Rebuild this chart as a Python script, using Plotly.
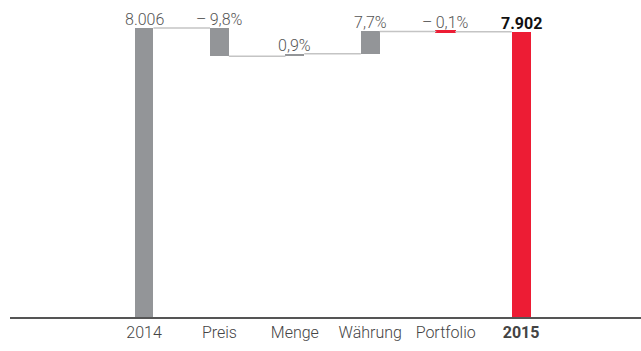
import plotly.graph_objects as go

# Umsatzbrücke 2014 -> 2015 (Mio. EUR), Effekte in % vom Vorjahresumsatz
categories = ["2014", "Preis", "Menge", "Währung", "Portfolio", "2015"]
start_value = 8006
end_value = 7902
effects_pct = [-9.8, 0.9, 7.7, -0.1]
bar_colors = ["#939598", "#939598", "#939598", "#939598", "#ed1c34", "#ed1c34"]

GRAY_TEXT = "#555555"
FONT = "Roboto"

# cumulative levels of the bridge
levels = [start_value]
for p in effects_pct:
    levels.append(levels[-1] + start_value * p / 100.0)

bases, heights = [0], [start_value]
for i, p in enumerate(effects_pct):
    lo, hi = sorted([levels[i], levels[i + 1]])
    bases.append(lo)
    heights.append(hi - lo)
bases.append(0)
heights.append(end_value)

tops = [b + h for b, h in zip(bases, heights)]
xs = list(range(len(categories)))
bar_w = 0.25

# very thin steps get an outline in their own colour so they stay visible
outline_w = [2 if h < start_value * 0.005 else 0 for h in heights]


def fmt_num(v):
    return f"{v:,}".replace(",", ".")


def fmt_pct(p):
    s = f"{abs(p):.1f}".replace(".", ",") + "%"
    return ("–\u2009" + s) if p < 0 else s


labels = [fmt_num(start_value)] + [fmt_pct(p) for p in effects_pct] + [f"<b>{fmt_num(end_value)}</b>"]
label_colors = [GRAY_TEXT] * 5 + ["#111111"]
label_weights = [300] * 5 + [700]

fig = go.Figure()

# connector lines between consecutive bars
cx, cy = [], []
for i in range(len(categories) - 1):
    lvl = levels[i]
    cx += [xs[i] + bar_w / 2, xs[i + 1] - bar_w / 2, None]
    cy += [lvl, lvl, None]
fig.add_trace(go.Scatter(x=cx, y=cy, mode="lines",
                         line=dict(color="#c4c4c4", width=1.5),
                         hoverinfo="skip", showlegend=False))

fig.add_trace(go.Bar(x=xs, y=heights, base=bases, width=bar_w,
                     marker=dict(color=bar_colors,
                                 line=dict(width=outline_w, color=bar_colors)),
                     showlegend=False))

for x, t, lab, col, wt in zip(xs, tops, labels, label_colors, label_weights):
    fig.add_annotation(x=x, y=t, text=lab, showarrow=False,
                       yanchor="bottom", yshift=-3,
                       font=dict(family=FONT, size=16, color=col, weight=wt))

ticktext = categories[:-1] + [f"<b>{categories[-1]}</b>"]

fig.update_layout(
    width=641, height=351,
    margin=dict(l=10, r=0, t=0, b=34),
    paper_bgcolor="white", plot_bgcolor="white",
    font=dict(family=FONT, size=16, color="#444444", weight=300),
    bargap=0,
)
fig.update_xaxes(range=[-1.777, 6.59], tickmode="array", tickvals=xs,
                 ticktext=ticktext, showgrid=False, zeroline=False,
                 showline=True, linecolor="#555555", linewidth=1.5,
                 ticks="", tickfont=dict(family=FONT, size=16, color="#444444", weight=300))
fig.update_yaxes(range=[0, 8780], visible=False)

fig.write_html("out.html")
